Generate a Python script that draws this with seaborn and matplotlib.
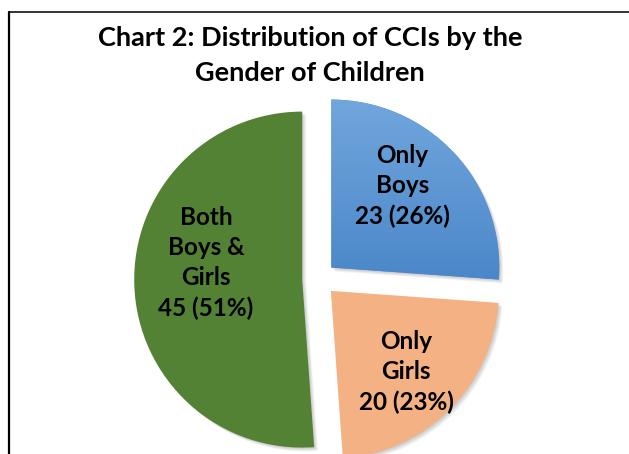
import numpy as np
import matplotlib
matplotlib.use("Agg")
import matplotlib.pyplot as plt
import seaborn as sns
from matplotlib.patches import Wedge
from matplotlib.lines import Line2D
from matplotlib.colors import LinearSegmentedColormap

# data
categories = ["Only\nBoys", "Only\nGirls", "Both\nBoys &\nGirls"]
counts = [23, 20, 45]
percents = [26, 23, 51]
colors = ["#5B9BD5", "#F4B183", "#548235"]
title = "Chart 2: Distribution of CCIs by the\nGender of Children"

sns.set_style("white")
plt.rcParams["font.family"] = ["Lato", "DejaVu Sans"]
plt.rcParams["text.color"] = "black"

W, H = 629, 454
fig = plt.figure(figsize=(W / 100, H / 100), dpi=100)
ax = fig.add_axes([0, 0, 1, 1])

# pie geometry (pixels): centre and radius
cx, cy, rad = 319, 279, 168
explode = [0.1, 0.1, 0.1]

wedges, _ = ax.pie(counts, colors=colors, startangle=90, counterclock=False,
                   explode=explode, radius=1.0,
                   wedgeprops=dict(linewidth=0, zorder=3))

# soft shadow behind the slices
for w in wedges:
    for k in range(1, 7):
        d = 0.004 * k
        sh = Wedge((w.center[0] + d, w.center[1] - d), w.r, w.theta1, w.theta2,
                   facecolor="black", alpha=0.035, linewidth=0, zorder=1)
        ax.add_patch(sh)

# vertical gradient on the blue slice
grad = LinearSegmentedColormap.from_list("blu", ["#4A86C8", "#73A8DE"])
b = wedges[0]
img = ax.imshow(np.linspace(0, 1, 256).reshape(-1, 1), cmap=grad, origin="lower",
                extent=[b.center[0], b.center[0] + 1.05, b.center[1] - 0.1, b.center[1] + 1.05],
                aspect="auto", zorder=4)
img.set_clip_path(b)

# labels inside slices
label_dist = [0.645, 0.658, 0.582]
label_turn = [6, -2, -12]
for w, cat, n, p, dist, turn in zip(wedges, categories, counts, percents, label_dist, label_turn):
    ang = np.deg2rad((w.theta1 + w.theta2) / 2 + turn)
    x = w.center[0] + dist * np.cos(ang)
    y = w.center[1] + dist * np.sin(ang)
    ax.text(x, y, f"{cat}\n{n} ({p}%)", ha="center", va="center", color="black",
            fontsize=17.5, fontweight="bold", linespacing=1.38, zorder=6)

ax.set_xlim(-cx / rad, (W - cx) / rad)
ax.set_ylim(-(H - cy) / rad, cy / rad)
ax.set_aspect("auto")
ax.axis("off")

fig.text(310 / W, 1 - 26 / H, title, ha="center", va="top", color="black",
         fontsize=19.5, fontweight="bold", linespacing=1.55)

# chart border (top and left edges visible)
fig.add_artist(Line2D([9 / W, 1], [1 - 12 / H, 1 - 12 / H], color="#333333", lw=1.4))
fig.add_artist(Line2D([9 / W, 9 / W], [0, 1 - 12 / H], color="black", lw=1.6))

fig.savefig("out.png", dpi=100)
